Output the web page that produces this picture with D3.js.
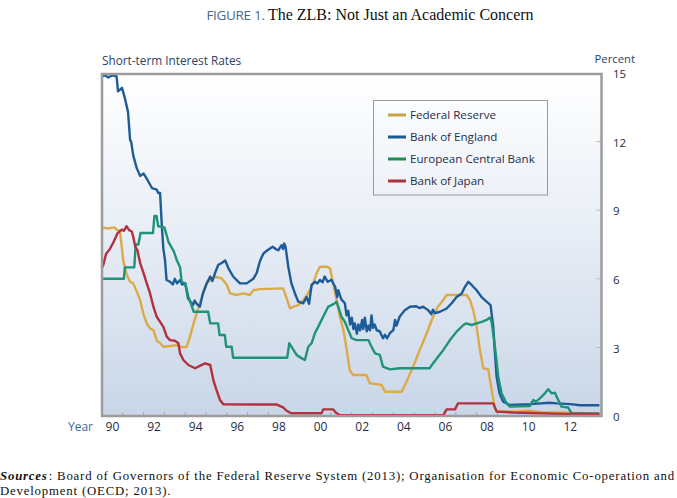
<!DOCTYPE html>
<html>
<head>
<meta charset="utf-8">
<script src="https://cdn.jsdelivr.net/npm/d3@7"></script>
<style>
  html, body { margin: 0; padding: 0; background: #ffffff; }
  svg { display: block; }
</style>
</head>
<body>
<svg id="chart" width="677" height="498"></svg>
<script>
// ---------- DATA ----------
const seriesNames = ["Federal Reserve", "Bank of England", "European Central Bank", "Bank of Japan"];
const yTicks = [0, 3, 6, 9, 12, 15];
const xTickYears = [1990, 1992, 1994, 1996, 1998, 2000, 2002, 2004, 2006, 2008, 2010, 2012];
const xTickLabels = ["90", "92", "94", "96", "98", "00", "02", "04", "06", "08", "10", "12"];

const fedData = [[1990.0,8.25],[1990.3,8.2],[1990.6,8.25],[1990.7,8.15],[1990.86,8.1],[1990.95,7.4],[1991.02,6.8],[1991.18,6.2],[1991.35,5.87],[1991.5,5.8],[1991.67,5.45],[1991.83,5.07],[1992.0,4.42],[1992.15,4.05],[1992.3,3.83],[1992.47,3.76],[1992.63,3.3],[1992.8,3.18],[1992.95,3.03],[1993.27,3.06],[1993.6,3.1],[1993.9,3.0],[1994.07,3.03],[1994.23,3.47],[1994.4,4.05],[1994.55,4.49],[1994.7,4.93],[1994.87,5.36],[1995.03,5.8],[1995.2,5.95],[1995.43,6.09],[1995.75,6.02],[1996.0,5.73],[1996.15,5.36],[1996.47,5.29],[1996.8,5.36],[1997.1,5.29],[1997.27,5.5],[1997.6,5.55],[1998.0,5.56],[1998.7,5.58],[1998.87,5.15],[1999.03,4.71],[1999.2,4.78],[1999.43,4.85],[1999.67,5.07],[1999.9,5.36],[2000.15,5.8],[2000.31,6.24],[2000.47,6.53],[2000.8,6.53],[2000.96,6.46],[2001.1,5.8],[2001.27,5.07],[2001.43,4.34],[2001.6,3.76],[2001.76,2.89],[2001.9,2.01],[2002.07,1.79],[2002.7,1.79],[2002.87,1.43],[2003.43,1.36],[2003.6,1.06],[2004.4,1.06],[2004.63,1.5],[2004.95,2.16],[2005.27,2.89],[2005.6,3.62],[2005.91,4.34],[2006.15,4.8],[2006.3,4.95],[2006.56,5.29],[2007.52,5.29],[2007.68,5.07],[2007.84,4.63],[2008.0,3.9],[2008.16,2.89],[2008.32,2.09],[2008.56,2.04],[2008.72,1.14],[2008.88,0.34],[2008.96,0.23],[2009.75,0.19],[2010.56,0.23],[2011.3,0.15],[2012.16,0.15],[2013.0,0.12],[2013.9,0.1]];

const boeData = [[1990.0,14.85],[1990.15,14.9],[1990.3,14.8],[1990.5,14.9],[1990.7,14.85],[1990.77,14.2],[1990.96,14.35],[1991.1,13.9],[1991.25,13.3],[1991.35,12.07],[1991.4,12.0],[1991.5,11.4],[1991.67,10.84],[1991.83,10.5],[1992.0,10.6],[1992.2,10.3],[1992.4,9.97],[1992.63,9.9],[1992.7,9.75],[1992.79,9.75],[1992.87,8.4],[1992.95,7.3],[1993.03,6.8],[1993.1,5.95],[1993.27,5.87],[1993.4,5.75],[1993.5,6.0],[1993.6,5.8],[1993.75,5.95],[1993.85,5.75],[1994.0,5.8],[1994.13,5.15],[1994.25,5.0],[1994.37,4.85],[1994.45,5.05],[1994.55,4.9],[1994.7,4.78],[1994.85,5.37],[1995.03,5.8],[1995.2,6.1],[1995.3,5.9],[1995.45,6.3],[1995.58,6.6],[1995.75,6.69],[1995.92,6.8],[1996.07,6.47],[1996.3,6.1],[1996.63,5.8],[1996.95,5.8],[1997.27,6.0],[1997.43,6.25],[1997.6,6.8],[1997.75,7.1],[1997.95,7.25],[1998.2,7.4],[1998.35,7.3],[1998.47,7.25],[1998.63,7.47],[1998.7,7.3],[1998.75,7.55],[1998.82,7.4],[1998.95,6.53],[1999.1,5.8],[1999.27,5.36],[1999.43,5.0],[1999.67,4.93],[1999.83,5.2],[1999.95,4.9],[2000.07,5.73],[2000.23,5.87],[2000.35,5.8],[2000.47,5.95],[2000.6,5.85],[2000.7,6.1],[2000.85,5.87],[2001.03,5.95],[2001.2,5.65],[2001.3,5.2],[2001.35,5.5],[2001.5,5.1],[2001.67,4.93],[2001.75,4.4],[2001.83,4.6],[2001.92,4.0],[2002.0,4.3],[2002.08,3.8],[2002.15,4.05],[2002.25,3.6],[2002.32,4.0],[2002.4,3.75],[2002.5,4.2],[2002.55,3.8],[2002.63,4.3],[2002.72,3.7],[2002.8,3.95],[2002.88,3.75],[2002.95,4.4],[2003.02,3.85],[2003.1,4.0],[2003.2,3.75],[2003.35,3.7],[2003.5,3.4],[2003.6,3.55],[2003.7,3.4],[2003.83,3.62],[2004.0,3.76],[2004.08,4.2],[2004.15,3.95],[2004.3,4.34],[2004.55,4.63],[2004.8,4.78],[2005.1,4.8],[2005.25,4.72],[2005.43,4.78],[2005.67,4.63],[2005.83,4.45],[2005.9,4.65],[2006.0,4.5],[2006.24,4.56],[2006.56,4.7],[2006.8,4.93],[2007.04,5.2],[2007.28,5.36],[2007.44,5.65],[2007.6,5.87],[2007.76,5.73],[2008.0,5.5],[2008.24,5.2],[2008.48,5.0],[2008.67,4.85],[2008.8,3.9],[2008.88,2.74],[2008.96,1.72],[2009.1,0.99],[2009.27,0.63],[2009.6,0.48],[2010.56,0.52],[2011.5,0.58],[2011.84,0.55],[2012.5,0.52],[2012.96,0.47],[2013.9,0.47]];

const ecbData = [[1990.0,6.0],[1991.05,6.0],[1991.1,6.5],[1991.55,6.5],[1991.62,7.5],[1991.75,7.5],[1991.85,8.0],[1992.45,8.0],[1992.52,8.75],[1992.62,8.75],[1992.7,8.3],[1993.0,8.25],[1993.2,7.6],[1993.45,7.2],[1993.6,6.8],[1993.75,6.5],[1993.83,5.87],[1994.0,5.8],[1994.15,5.22],[1994.3,4.85],[1994.4,4.56],[1995.1,4.56],[1995.2,4.05],[1995.58,4.05],[1995.65,3.54],[1995.9,3.54],[1995.97,3.03],[1996.23,3.03],[1996.3,2.55],[1998.9,2.55],[1999.0,3.18],[1999.1,3.03],[1999.35,2.67],[1999.6,2.52],[1999.75,2.45],[1999.91,3.03],[2000.07,3.18],[2000.23,3.62],[2000.47,4.05],[2000.71,4.49],[2000.87,4.78],[2001.03,4.85],[2001.19,4.93],[2001.27,5.0],[2001.35,4.78],[2001.51,4.34],[2001.67,4.12],[2001.83,3.76],[2002.0,3.4],[2002.23,3.32],[2002.8,3.32],[2002.95,3.03],[2003.12,2.74],[2003.35,2.67],[2003.5,2.16],[2003.83,2.04],[2004.3,2.09],[2005.75,2.09],[2005.9,2.3],[2006.15,2.59],[2006.4,2.89],[2006.72,3.32],[2007.04,3.69],[2007.36,3.98],[2007.5,4.05],[2007.76,3.98],[2008.0,4.05],[2008.24,4.12],[2008.48,4.2],[2008.64,4.31],[2008.72,4.12],[2008.88,3.03],[2009.04,1.72],[2009.2,0.99],[2009.44,0.55],[2009.6,0.41],[2010.56,0.44],[2010.72,0.7],[2010.85,0.63],[2011.04,0.77],[2011.28,0.99],[2011.44,1.17],[2011.6,0.99],[2011.76,1.02],[2011.92,0.7],[2012.08,0.41],[2012.4,0.37],[2012.56,0.12],[2013.9,0.1]];

const bojData = [[1990.0,6.5],[1990.06,6.6],[1990.2,7.1],[1990.38,7.3],[1990.55,7.6],[1990.75,8.0],[1990.95,8.15],[1991.05,8.1],[1991.18,8.3],[1991.3,8.13],[1991.43,8.07],[1991.5,7.84],[1991.6,7.4],[1991.7,7.26],[1991.83,6.7],[1992.0,6.24],[1992.15,5.8],[1992.31,5.36],[1992.47,4.78],[1992.63,4.34],[1992.79,4.12],[1992.95,3.9],[1993.11,3.47],[1993.27,3.32],[1993.5,3.29],[1993.67,3.18],[1993.75,2.74],[1993.91,2.45],[1994.15,2.23],[1994.47,2.09],[1994.7,2.19],[1994.95,2.3],[1995.2,2.23],[1995.35,1.57],[1995.5,1.14],[1995.67,0.7],[1995.83,0.51],[1998.4,0.5],[1998.7,0.38],[1998.87,0.23],[1999.1,0.12],[2000.55,0.12],[2000.63,0.29],[2001.11,0.29],[2001.24,0.14],[2001.43,0.03],[2006.4,0.04],[2006.56,0.29],[2006.96,0.29],[2007.1,0.55],[2008.8,0.55],[2008.96,0.19],[2009.75,0.15],[2011.0,0.12],[2012.16,0.09],[2013.9,0.09]];

const seriesData = [fedData, boeData, ecbData, bojData];
const seriesColors = ["#dcaa48", "#1d5c98", "#1f9378", "#b3303f"];
const legendColors = ["#c9a14b", "#1b5a92", "#1c8f55", "#a8303f"];

// ---------- LAYOUT ----------
const svg = d3.select("#chart");
const plot = { left: 102, right: 601.5, top: 73, bottom: 416 };

const x = d3.scaleLinear().domain([1990, 2014]).range([plot.left, plot.right]);
const y = d3.scaleLinear().domain([0, 15]).range([plot.bottom, plot.top]);

// gradient background
const defs = svg.append("defs");
const grad = defs.append("linearGradient").attr("id", "bg").attr("x1", 0).attr("y1", 0).attr("x2", 0).attr("y2", 1);
grad.append("stop").attr("offset", "0%").attr("stop-color", "#ffffff");
grad.append("stop").attr("offset", "45%").attr("stop-color", "#e9eef6");
grad.append("stop").attr("offset", "100%").attr("stop-color", "#c9d6e8");

svg.append("rect")
  .attr("x", plot.left).attr("y", plot.top)
  .attr("width", plot.right - plot.left).attr("height", plot.bottom - plot.top)
  .attr("fill", "url(#bg)");

defs.append("clipPath").attr("id", "clip").append("rect")
  .attr("x", plot.left).attr("y", plot.top - 2)
  .attr("width", plot.right - plot.left).attr("height", plot.bottom - plot.top + 2);

// title
const title = svg.append("text").attr("x", 370).attr("y", 20).attr("text-anchor", "middle");
title.append("tspan").text("FIGURE 1. ")
  .attr("font-family", "'Open Sans', 'DejaVu Sans', sans-serif").attr("font-size", 13.5)
  .attr("fill", "#47698f").attr("letter-spacing", "-0.3");
title.append("tspan").text("The ZLB: Not Just an Academic Concern")
  .attr("font-family", "'Liberation Serif', 'DejaVu Serif', serif").attr("font-size", 16)
  .attr("fill", "#111");

// axis titles
const sansFont = "'Open Sans', 'Noto Sans', sans-serif";
svg.append("text").attr("x", plot.left).attr("y", 65)
  .attr("font-family", sansFont).attr("font-size", 11.8).attr("fill", "#2b4468")
  .text("Short-term Interest Rates");
svg.append("text").attr("x", 635).attr("y", 63).attr("text-anchor", "end")
  .attr("font-family", sansFont).attr("font-size", 11.3).attr("fill", "#2b4468")
  .text("Percent");

// y ticks (right)
const yAxisG = svg.append("g");
yAxisG.selectAll("line").data(yTicks.filter(d => d > 0 && d < 15)).join("line")
  .attr("x1", plot.right - 5).attr("x2", plot.right)
  .attr("y1", d => y(d)).attr("y2", d => y(d))
  .attr("stroke", "#b8b8b8").attr("stroke-width", 1);
yAxisG.selectAll("text").data(yTicks).join("text")
  .attr("x", 613).attr("y", d => y(d) + 1).attr("dy", "0.36em")
  .attr("font-family", sansFont).attr("font-size", 11.5).attr("fill", "#1e2d45")
  .text(d => d);

// x ticks (bottom, every year)
const xAxisG = svg.append("g");
xAxisG.selectAll("line").data(d3.range(1991, 2014)).join("line")
  .attr("x1", d => x(d)).attr("x2", d => x(d))
  .attr("y1", plot.bottom - 4).attr("y2", plot.bottom)
  .attr("stroke", "#a8a8a8").attr("stroke-width", 1);
xAxisG.selectAll("text").data(xTickYears).join("text")
  .attr("x", d => x(d + 0.5)).attr("y", 431).attr("text-anchor", "middle")
  .attr("font-family", sansFont).attr("font-size", 12).attr("fill", "#1e2d45")
  .text((d, i) => xTickLabels[i]);
svg.append("text").attr("x", 68).attr("y", 431)
  .attr("font-family", sansFont).attr("font-size", 12).attr("fill", "#3a6a9c")
  .text("Year");

// lines
const line = d3.line().x(d => x(d[0])).y(d => y(d[1]));
svg.append("g").attr("clip-path", "url(#clip)")
  .selectAll("path").data(seriesData).join("path")
  .attr("d", line)
  .attr("fill", "none")
  .attr("stroke", (d, i) => seriesColors[i])
  .attr("stroke-width", 2.4)
  .attr("stroke-linejoin", "round");

// plot border
svg.append("rect")
  .attr("x", plot.left).attr("y", plot.top + 1)
  .attr("width", plot.right - plot.left).attr("height", plot.bottom - plot.top - 1)
  .attr("fill", "none").attr("stroke", "#9c9c9c").attr("stroke-width", 2.5);

// legend
const leg = svg.append("g");
leg.append("rect").attr("x", 373.5).attr("y", 100.5).attr("width", 174).attr("height", 94.5)
  .attr("fill", "none").attr("stroke", "#9a9a9a").attr("stroke-width", 1);
const legY = [115, 137, 159, 181];
seriesNames.forEach((name, i) => {
  leg.append("line").attr("x1", 388).attr("x2", 406).attr("y1", legY[i]).attr("y2", legY[i])
    .attr("stroke", legendColors[i]).attr("stroke-width", 3);
  leg.append("text").attr("x", 410).attr("y", legY[i]).attr("dy", "0.36em")
    .attr("font-family", sansFont).attr("font-size", 11.6).attr("fill", "#1f2f4a")
    .text(name);
});

// sources (two lines, first one spread to the page width)
const src = svg.append("g").attr("font-family", "'Liberation Serif', 'DejaVu Serif', serif").attr("font-size", 12.8).attr("fill", "#111");
const sLabel = src.append("text").attr("x", 0).attr("y", 480)
  .attr("font-weight", "bold").attr("font-style", "italic").text("Sources");
const sRest = src.append("text").attr("y", 480)
  .text(": Board of Governors of the Federal Reserve System (2013); Organisation for Economic Co-operation and");
const sLine2 = src.append("text").attr("x", 0).attr("y", 495).text("Development (OECD; 2013).");
const natural = sLabel.node().getComputedTextLength() + 1 + sRest.node().getComputedTextLength();
const nChars = sLabel.text().length + sRest.text().length;
const ls = Math.max(0, (675 - natural) / nChars);
[sLabel, sRest, sLine2].forEach(t => t.attr("letter-spacing", ls.toFixed(3)));
sRest.attr("x", sLabel.node().getComputedTextLength() + 1);
</script>
</body>
</html>
